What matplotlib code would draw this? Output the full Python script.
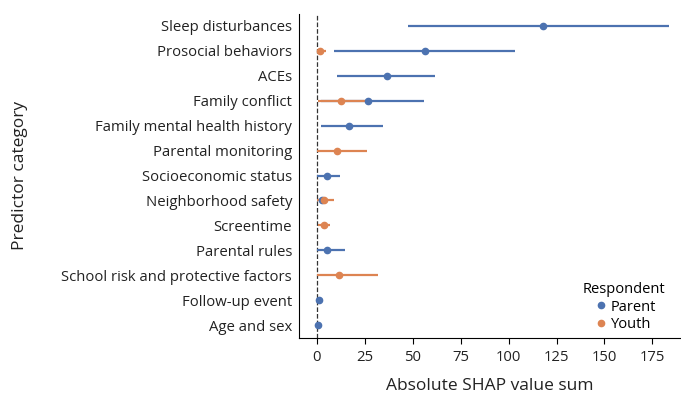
import numpy as np
import matplotlib.pyplot as plt
from matplotlib.lines import Line2D

# categories, bottom to top
categories = ['Age and sex', 'Follow-up event', 'School risk and protective factors',
              'Parental rules', 'Screentime', 'Neighborhood safety',
              'Socioeconomic status', 'Parental monitoring',
              'Family mental health history', 'Family conflict', 'ACEs',
              'Prosocial behaviors', 'Sleep disturbances']

# parent respondent: category, low, mean, high
parent_cat = ['Age and sex', 'Follow-up event', 'Parental rules', 'Neighborhood safety',
              'Socioeconomic status', 'Family mental health history',
              'Family conflict', 'ACEs', 'Prosocial behaviors', 'Sleep disturbances']
parent_lo = [0.0, 0.0, 0.2, 0.5, 0.2, 1.9, 2.0, 10.6, 8.9, 47.6]
parent_mid = [0.5, 1.2, 5.4, 2.4, 5.0, 16.8, 26.7, 36.6, 56.4, 118.2]
parent_hi = [0.9, 3.3, 14.8, 5.0, 12.0, 34.7, 55.9, 61.6, 103.3, 183.9]

# youth respondent
youth_cat = ['School risk and protective factors', 'Screentime', 'Neighborhood safety',
             'Parental monitoring', 'Family conflict', 'Prosocial behaviors']
youth_lo = [0.2, 0.5, 0.0, 0.2, 0.7, 0.0]
youth_mid = [11.6, 3.5, 3.5, 10.6, 12.7, 1.6]
youth_hi = [32.1, 6.9, 9.0, 26.2, 28.5, 4.5]

blue = '#4C72B0'
orange = '#DD8452'

plt.rcParams['font.family'] = ['Open Sans', 'DejaVu Sans']

fig = plt.figure(figsize=(6.81, 3.98), dpi=100)
ax = fig.add_axes([0.439, 0.152, 0.56, 0.814])

ypos = {c: i for i, c in enumerate(categories)}

def draw(cats, lo, mid, hi, color):
    y = np.array([ypos[c] for c in cats])
    mid = np.array(mid)
    err = [mid - np.array(lo), np.array(hi) - mid]
    ax.errorbar(mid, y, xerr=err, fmt='o', color=color, ecolor=color,
                elinewidth=1.6, markersize=4.5, capsize=0)

draw(parent_cat, parent_lo, parent_mid, parent_hi, blue)
draw(youth_cat, youth_lo, youth_mid, youth_hi, orange)

ax.axvline(0, color='#333333', linestyle='--', linewidth=0.9, zorder=0)

ax.set_yticks(range(len(categories)))
ax.set_yticklabels(categories, fontsize=10.7, color='#222222')
ax.set_ylim(-0.5, len(categories) - 0.5)
ax.set_xlim(-9.4, 189.6)
ax.set_xticks([0, 25, 50, 75, 100, 125, 150, 175])
ax.tick_params(axis='x', labelsize=10.7, length=4, pad=5, labelcolor='#222222')
ax.tick_params(axis='y', length=0, pad=5)

ax.spines['top'].set_visible(False)
ax.spines['right'].set_visible(False)

ax.set_xlabel('Absolute SHAP value sum', fontsize=12.5, color='#222222')
ax.xaxis.set_label_coords(0.5, -0.125)
ax.set_ylabel('Predictor category', fontsize=12.5, color='#222222')
ax.yaxis.set_label_coords(-0.71, 0.5)

handles = [Line2D([], [], marker='o', linestyle='', color=blue, markersize=4.5, label='Parent'),
           Line2D([], [], marker='o', linestyle='', color=orange, markersize=4.5, label='Youth')]
ax.legend(handles=handles, title='Respondent', loc='lower right', frameon=False, fontsize=10.5,
          title_fontsize=10.5, handletextpad=0.1, handlelength=1.2, labelspacing=0.2,
          bbox_to_anchor=(0.995, -0.025))

fig.savefig('out.png', dpi=100)
